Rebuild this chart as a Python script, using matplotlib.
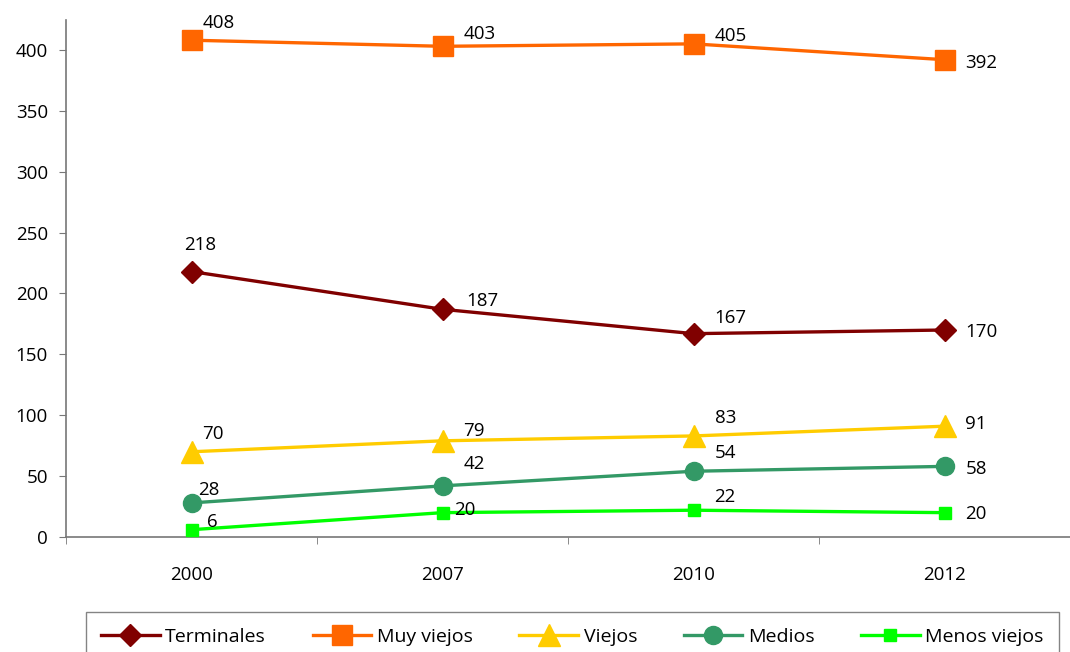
import matplotlib
matplotlib.use("Agg")
import matplotlib.pyplot as plt

years = ["2000", "2007", "2010", "2012"]
terminales = [218, 187, 167, 170]
muy_viejos = [408, 403, 405, 392]
viejos = [70, 79, 83, 91]
medios = [28, 42, 54, 58]
menos_viejos = [6, 20, 22, 20]

series = [
    ("Terminales", terminales, "#800000", "D", 11),
    ("Muy viejos", muy_viejos, "#FF6600", "s", 14),
    ("Viejos", viejos, "#FFCC00", "^", 16),
    ("Medios", medios, "#339966", "o", 13),
    ("Menos viejos", menos_viejos, "#00FF00", "s", 8),
]

# label offsets in pixels (dx, dy) for each series/point
label_offsets = [
    [(-7, 27), (24, 8), (21, 16), (21, -2)],
    [(11, 17), (21, 12), (21, 8), (21, -3)],
    [(11, 18), (21, 10), (21, 18), (21, 2)],
    [(7, 13), (21, 22), (21, 18), (21, -3)],
    [(15, 8), (12, 3), (21, 13), (21, -1)],
]

plt.rcParams['font.family'] = ['Open Sans', 'DejaVu Sans']
FS = 13.5
fig = plt.figure(figsize=(10.7, 6.52), dpi=100)
W, H = 1070, 652
ax = fig.add_axes([66 / W, 1 - 537 / H, (1070 - 66) / W, (537 - 20) / H])

x = list(range(len(years)))
for (name, vals, color, marker, ms), offs in zip(series, label_offsets):
    ax.plot(x, vals, color=color, lw=2.4, marker=marker, ms=ms,
            markeredgecolor=color, label=name, clip_on=False, zorder=3)
    for xi, v, (dx, dy) in zip(x, vals, offs):
        ax.annotate(str(v), (xi, v), xytext=(dx, dy), textcoords='offset pixels',
                    ha='left', va='center', fontsize=FS, color='black')

ax.set_ylim(0, 424.6)
ax.set_xlim(-0.5, 3.5 - 8 / 253)
ax.set_yticks(range(0, 401, 50))
ax.set_xticks(x)
ax.set_xticklabels(years)
ax.set_xticks([-0.5, 0.5, 1.5, 2.5, 3.5], minor=True)
ax.tick_params(axis='x', which='major', length=0, pad=21, labelsize=FS)
ax.tick_params(axis='x', which='minor', length=5, color='#777777', direction='out')
ax.tick_params(axis='y', length=5, color='#777777', pad=8, labelsize=FS)
for s in ['top', 'right']:
    ax.spines[s].set_visible(False)
for s in ['left', 'bottom']:
    ax.spines[s].set_color('#777777')
    ax.spines[s].set_linewidth(1.2)

leg = fig.legend(loc='upper center', bbox_to_anchor=(572.5 / W, 1 - 612 / H),
                 ncol=5, fontsize=14, frameon=True, fancybox=False,
                 edgecolor='#666666', handlelength=3.0, columnspacing=2.4,
                 handletextpad=0.3, borderpad=0.8, borderaxespad=0)
leg.get_frame().set_linewidth(1.0)

fig.savefig("out.png", dpi=100)
